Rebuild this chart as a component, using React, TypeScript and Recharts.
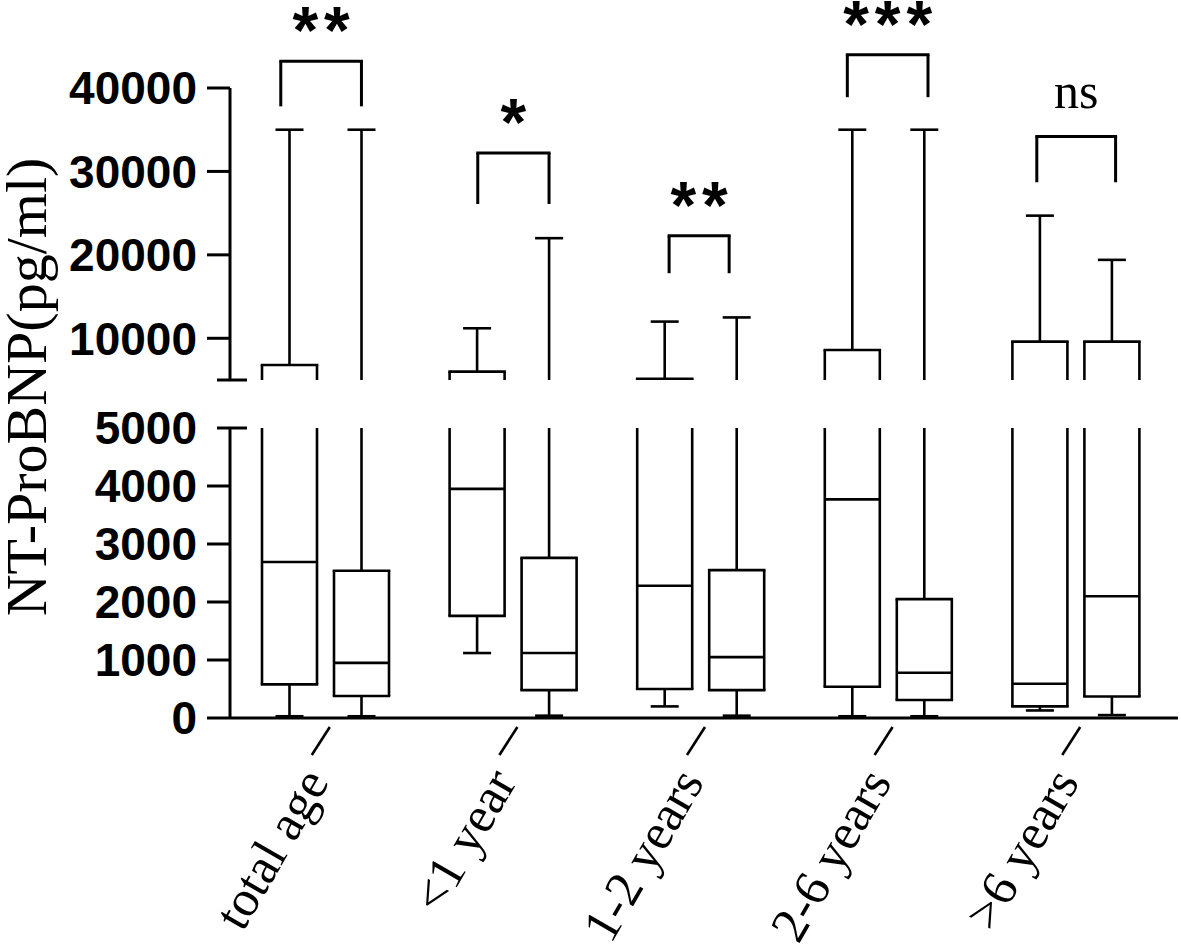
import React from "react";
import { Bar, ComposedChart, ReferenceLine, XAxis, YAxis } from "recharts";

const groups = ["total age", "<1 year", "1-2 years", "2-6 years", ">6 years"];

// left box of each pair
const minA = [30, 1120, 200, 30, 130];
const q1A = [580, 1760, 500, 540, 200];
const medA = [2690, 3950, 2280, 3770, 590];
const q3A = [6800, 6000, 5150, 8600, 9600];
const maxA = [35000, 11200, 12000, 35000, 24700];

// right box of each pair
const minB = [30, 40, 40, 30, 50];
const q1B = [380, 480, 480, 310, 370];
const medB = [950, 1120, 1050, 780, 2100];
const q3B = [2540, 2760, 2550, 2050, 9600];
const maxB = [35000, 22000, 12500, 35000, 19400];

// significance brackets (x in group units, y in pg/ml on the upper axis)
const sigText = ["**", "*", "**", "***", "ns"];
const sigTop = [43200, 32200, 22300, 44000, 34200];
const sigLeg = [37800, 26100, 17800, 38900, 28700];
const sigFrom = [0.26, 1.31, 2.33, 3.28, 4.29];
const sigTo = [0.69, 1.69, 2.65, 3.71, 4.71];

const breakAt = 5000;
const upperDomain = [5000, 40000];
const lowerDomain = [0, 5000];
const upperTicks = [5000, 10000, 20000, 30000, 40000];
const lowerTicks = [0, 1000, 2000, 3000, 4000, 5000];

const SANS = "'Liberation Sans', Arial, Helvetica, sans-serif";
const SERIF = "'Liberation Serif', 'Times New Roman', Times, serif";
const LW = 2.6;

const stats = (i: number, side: "a" | "b") =>
  side === "a"
    ? { min: minA[i], q1: q1A[i], med: medA[i], q3: q3A[i], max: maxA[i] }
    : { min: minB[i], q1: q1B[i], med: medB[i], q3: q3B[i], max: maxB[i] };

const makeRows = (lo: number, hi: number) =>
  groups.map((name, i) => {
    const a = stats(i, "a");
    const b = stats(i, "b");
    return {
      name,
      idx: i + 0.5,
      a,
      b,
      lo,
      hi,
      aRange: [Math.max(lo, a.min), Math.min(hi, a.max)],
      bRange: [Math.max(lo, b.min), Math.min(hi, b.max)],
    };
  });

const upperRows = makeRows(upperDomain[0], upperDomain[1]);
const lowerRows = makeRows(lowerDomain[0], lowerDomain[1]);

// box + whiskers, clipped to the panel the bar belongs to
const BoxShape = (props: any) => {
  const { x, width, payload, side } = props;
  const top = Math.min(props.y, props.y + props.height);
  const h = Math.abs(props.height);
  const s = payload[side];
  const [lo, hi] = payload[side + "Range"];
  if (hi <= lo) return null;
  const py = (v: number) => top + (h * (hi - v)) / (hi - lo);
  const cx = x + width / 2;
  const cap = 14;
  const out: any[] = [];
  out.push(<line key="w" x1={cx} x2={cx} y1={py(lo)} y2={py(hi)} stroke="#000" strokeWidth={LW} />);
  if (s.max <= hi) out.push(<line key="cmax" x1={cx - cap} x2={cx + cap} y1={py(s.max)} y2={py(s.max)} stroke="#000" strokeWidth={LW} />);
  if (s.min >= lo) out.push(<line key="cmin" x1={cx - cap} x2={cx + cap} y1={py(s.min)} y2={py(s.min)} stroke="#000" strokeWidth={LW} />);
  const bLo = Math.max(s.q1, payload.lo);
  const bHi = Math.min(s.q3, payload.hi);
  if (bHi > bLo) {
    const y1 = py(bHi);
    const y2 = py(bLo);
    out.push(<rect key="fill" x={x} y={y1} width={width} height={y2 - y1} fill="#fff" />);
    out.push(<line key="l" x1={x} x2={x} y1={y1} y2={y2} stroke="#000" strokeWidth={LW} />);
    out.push(<line key="r" x1={x + width} x2={x + width} y1={y1} y2={y2} stroke="#000" strokeWidth={LW} />);
    if (s.q3 <= payload.hi) out.push(<line key="t" x1={x} x2={x + width} y1={y1} y2={y1} stroke="#000" strokeWidth={LW} strokeLinecap="square" />);
    if (s.q1 >= payload.lo) out.push(<line key="b" x1={x} x2={x + width} y1={y2} y2={y2} stroke="#000" strokeWidth={LW} strokeLinecap="square" />);
    if (s.med >= payload.lo && s.med <= payload.hi)
      out.push(<line key="m" x1={x} x2={x + width} y1={py(s.med)} y2={py(s.med)} stroke="#000" strokeWidth={LW} />);
  }
  return <g>{out}</g>;
};

const makeYTick = (showBreakLabel: boolean) => (props: any) => {
  const { x, y, payload } = props;
  const v = payload.value;
  const isBreak = v === breakAt;
  return (
    <g>
      {isBreak ? (
        <line x1={x - 13} x2={x + 17} y1={y} y2={y} stroke="#000" strokeWidth={3} />
      ) : (
        <line x1={x - 23} x2={x} y1={y} y2={y} stroke="#000" strokeWidth={3} />
      )}
      {(!isBreak || showBreakLabel) && (
        <text x={x - 33} y={y} dy="0.355em" textAnchor="end" fontFamily={SANS} fontWeight={700} fontSize={46} fill="#000">
          {v}
        </text>
      )}
    </g>
  );
};

const XTick = (props: any) => {
  const { x, y, payload } = props;
  return (
    <g>
      <line x1={x + 4} y1={y + 9} x2={x - 14} y2={y + 37} stroke="#000" strokeWidth={2.6} />
      <text
        transform={`translate(${x + 4},${y + 64}) rotate(-60)`}
        textAnchor="end"
        fontFamily={SERIF}
        fontSize={51}
        fill="#000"
      >
        {payload.value}
      </text>
    </g>
  );
};

const axisLine = { stroke: "#000", strokeWidth: 3 };
const pad = { left: 2, right: 8 };

const Brackets = () =>
  groups.map((g, i) => [
    <ReferenceLine
      key={`l${i}`}
      xAxisId="num"
      segment={[{ x: sigFrom[i], y: sigLeg[i] }, { x: sigFrom[i], y: sigTop[i] }]}
      stroke="#000"
      strokeWidth={3}
      ifOverflow="visible"
    />,
    <ReferenceLine
      key={`r${i}`}
      xAxisId="num"
      segment={[{ x: sigTo[i], y: sigLeg[i] }, { x: sigTo[i], y: sigTop[i] }]}
      stroke="#000"
      strokeWidth={3}
      ifOverflow="visible"
    />,
    <ReferenceLine
      key={`t${i}`}
      xAxisId="num"
      segment={[{ x: sigFrom[i], y: sigTop[i] }, { x: sigTo[i], y: sigTop[i] }]}
      stroke="#000"
      strokeWidth={3}
      strokeLinecap="square"
      ifOverflow="visible"
      label={
        sigText[i] === "ns"
          ? { value: "ns", position: "top", offset: 28, fontFamily: SERIF, fontSize: 50, fill: "#000" }
          : { value: sigText[i], position: "top", offset: 8, dx: 3, fontFamily: SANS, fontWeight: 700, fontSize: 66, fill: "#000", letterSpacing: 6 }
      }
    />,
  ]);

export default function App() {
  return (
    <div style={{ position: "absolute", left: 0, top: 0, width: 1181, height: 951, background: "#fff" }}>
      <div style={{ position: "absolute", left: 0, top: 0 }}>
        <ComposedChart
          width={1181}
          height={400}
          data={upperRows}
          margin={{ top: 88, right: 3, bottom: 20, left: 0 }}
          barSize={55}
          barGap={17}
        >
          <XAxis dataKey="name" hide padding={pad} />
          <XAxis xAxisId="num" dataKey="idx" type="number" domain={[0, 5]} hide padding={pad} allowDataOverflow />
          <YAxis
            domain={upperDomain}
            ticks={upperTicks}
            interval={0}
            allowDataOverflow
            width={230}
            axisLine={axisLine}
            tickLine={false}
            tickSize={0}
            tickMargin={0}
            tick={makeYTick(false)}
          />
          <Bar dataKey="aRange" isAnimationActive={false} shape={(p: any) => <BoxShape {...p} side="a" />} />
          <Bar dataKey="bRange" isAnimationActive={false} shape={(p: any) => <BoxShape {...p} side="b" />} />
          {Brackets()}
        </ComposedChart>
      </div>
      <div style={{ position: "absolute", left: 0, top: 400 }}>
        <ComposedChart
          width={1181}
          height={551}
          data={lowerRows}
          margin={{ top: 28, right: 3, bottom: 0, left: 0 }}
          barSize={55}
          barGap={17}
        >
          <XAxis
            dataKey="name"
            padding={pad}
            height={233}
            interval={0}
            axisLine={axisLine}
            tickLine={false}
            tickSize={0}
            tickMargin={0}
            tick={XTick}
          />
          <YAxis
            domain={lowerDomain}
            ticks={lowerTicks}
            interval={0}
            allowDataOverflow
            width={230}
            axisLine={axisLine}
            tickLine={false}
            tickSize={0}
            tickMargin={0}
            tick={makeYTick(true)}
          />
          <Bar dataKey="aRange" isAnimationActive={false} shape={(p: any) => <BoxShape {...p} side="a" />} />
          <Bar dataKey="bRange" isAnimationActive={false} shape={(p: any) => <BoxShape {...p} side="b" />} />
        </ComposedChart>
      </div>
      <svg style={{ position: "absolute", left: 0, top: 0 }} width={80} height={951}>
        <text
          transform="translate(46,387) rotate(-90)"
          textAnchor="middle"
          fontFamily={SERIF}
          fontSize={58}
          fill="#000"
        >
          NT-ProBNP(pg/ml)
        </text>
      </svg>
    </div>
  );
}
